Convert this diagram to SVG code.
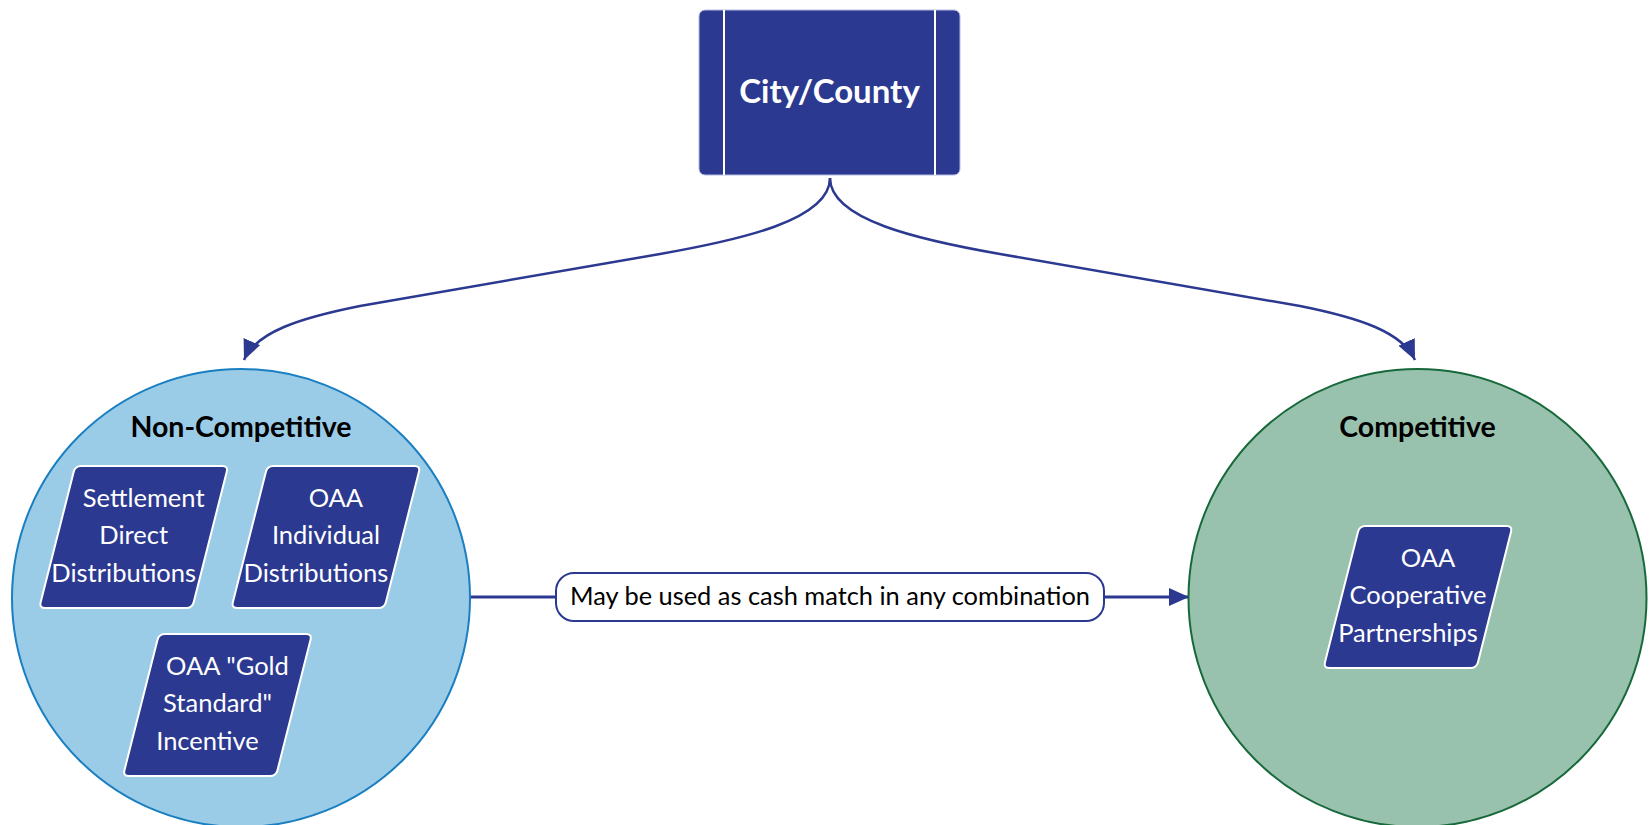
<svg xmlns="http://www.w3.org/2000/svg" width="1650" height="825" viewBox="0 0 1650 825">
  <style>
    .box { fill: #2b3990; }
    .para { fill: #2b3990; stroke: #ffffff; stroke-width: 2; }
    .ptext { font-family: Lato, "Noto Sans", sans-serif; font-size: 25.5px; fill: #ffffff; text-anchor: middle; }
    .title { font-family: Lato, "Noto Sans", sans-serif; font-size: 28.5px; font-weight: bold; fill: #000000; text-anchor: middle; }
    .conn { fill: none; stroke: #2b3990; stroke-width: 2.5; }
    .label { font-family: Lato, "Noto Sans", sans-serif; font-size: 25.4px; fill: #000000; text-anchor: middle; }
  </style>
  <defs>
    <marker id="arrow" markerUnits="userSpaceOnUse" markerWidth="22" markerHeight="20" refX="20" refY="9" orient="auto">
      <path d="M0,0 L20,9 L0,18 Z" fill="#2b3990"/>
    </marker>
    <path id="para" d="M 6 0 L 147 0 Q 153 0 151.53 5.82 L 118.47 136.18 Q 117 142 111 142 L -30 142 Q -36 142 -34.53 136.18 L -1.47 5.82 Q 0 0 6 0 Z"/>
  </defs>

  <g id="connectors">
    <path class="conn" d="M 830 178 C 830 220 740 240 660 254 L 360 306 C 300 318 256 332 244 360" marker-end="url(#arrow)"/>
    <path class="conn" d="M 830 178 C 830 220 920 240 1000 254 L 1300 306 C 1360 318 1402 332 1415 360" marker-end="url(#arrow)"/>
    <line x1="470" y1="597" x2="556" y2="597" stroke="#2b3990" stroke-width="3"/>
    <line x1="1104" y1="597" x2="1189" y2="597" stroke="#2b3990" stroke-width="3" marker-end="url(#arrow)"/>
  </g>

  <g id="city-county">
    <rect x="699" y="10" width="261" height="165" rx="6" ry="6" fill="#2b3990" stroke="#b5bce0" stroke-width="1"/>
    <line x1="724" y1="10" x2="724" y2="175" stroke="#ffffff" stroke-width="2"/>
    <line x1="935" y1="10" x2="935" y2="175" stroke="#ffffff" stroke-width="2"/>
    <text x="829.5" y="103" font-family="Lato, 'Noto Sans', sans-serif" font-size="33" font-weight="bold" fill="#ffffff" text-anchor="middle">City/County</text>
  </g>

  <g id="non-competitive">
    <circle cx="241" cy="598" r="229" fill="#9bcce7" stroke="#1a7fc1" stroke-width="2"/>
    <text class="title" x="241" y="437">Non-Competitive</text>
  </g>

  <g id="competitive">
    <circle cx="1417.5" cy="598" r="229" fill="#99c2ae" stroke="#17693b" stroke-width="2"/>
    <text class="title" x="1417.5" y="437">Competitive</text>
  </g>

  <g id="settlement-direct">
    <use href="#para" class="para" transform="translate(75.2,466)"/>
    <text class="ptext"><tspan x="143.7" y="506.7">Settlement</tspan><tspan x="133.7" y="544">Direct</tspan><tspan x="123.7" y="582">Distributions</tspan></text>
  </g>

  <g id="oaa-individual">
    <use href="#para" class="para" transform="translate(267.4,466)"/>
    <text class="ptext"><tspan x="335.9" y="506.7">OAA</tspan><tspan x="325.9" y="544">Individual</tspan><tspan x="315.9" y="582">Distributions</tspan></text>
  </g>

  <g id="oaa-gold">
    <use href="#para" class="para" transform="translate(159,634)"/>
    <text class="ptext"><tspan x="227.5" y="674.7">OAA "Gold</tspan><tspan x="217.5" y="712">Standard"</tspan><tspan x="207.5" y="750">Incentive</tspan></text>
  </g>

  <g id="oaa-cooperative">
    <use href="#para" class="para" transform="translate(1359.5,526)"/>
    <text class="ptext"><tspan x="1428" y="566.7">OAA</tspan><tspan x="1418" y="604">Cooperative</tspan><tspan x="1408" y="642">Partnerships</tspan></text>
  </g>

  <g id="label-cash-match">
    <rect x="556" y="573" width="548" height="48" rx="18" ry="18" fill="#ffffff" stroke="#2b3990" stroke-width="2"/>
    <text class="label" x="830" y="605">May be used as cash match in any combination</text>
  </g>
</svg>
